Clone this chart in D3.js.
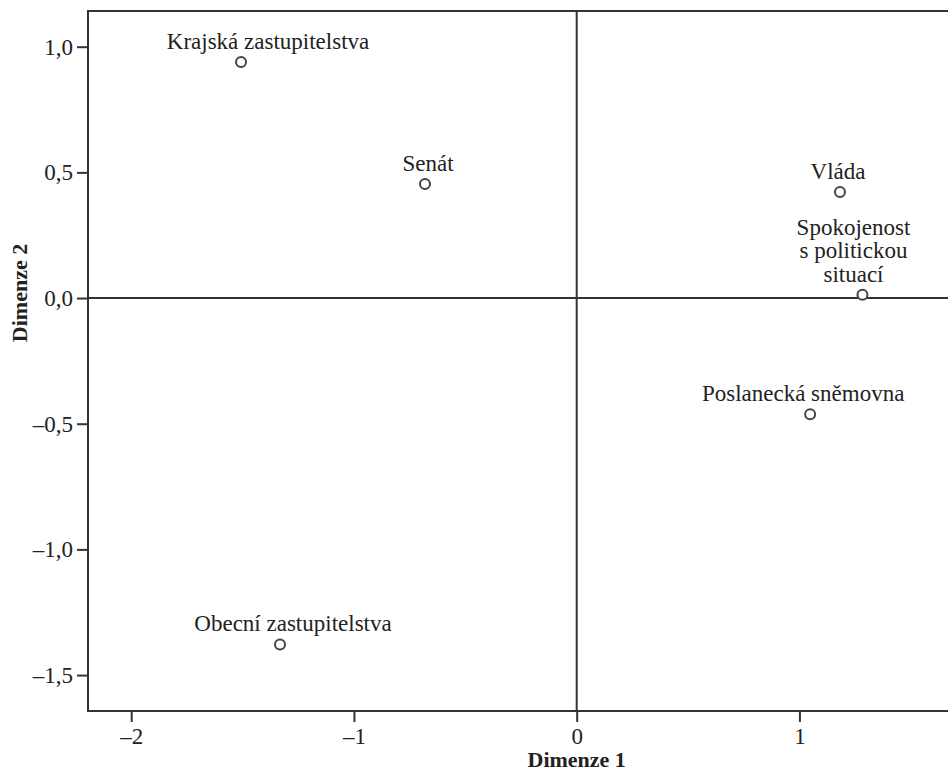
<!DOCTYPE html>
<html>
<head>
<meta charset="utf-8">
<script src="https://cdn.jsdelivr.net/npm/d3@7"></script>
<style>
  body { margin: 0; background: #fff; }
  text { font-family: "Liberation Serif", "DejaVu Serif", serif; fill: #222; }
</style>
</head>
<body>
<svg id="chart" width="948" height="774"></svg>
<script>
// values
var labels = [
  ["Krajská zastupitelstva"],
  ["Senát"],
  ["Vláda"],
  ["Spokojenost", "s politickou", "situací"],
  ["Poslanecká sněmovna"],
  ["Obecní zastupitelstva"]
];
var dim1 = [-1.507, -0.681, 1.182, 1.283, 1.048, -1.332];
var dim2 = [0.939, 0.454, 0.422, 0.013, -0.462, -1.378];
var xTicks = [-2, -1, 0, 1];
var yTicks = [-1.5, -1.0, -0.5, 0.0, 0.5, 1.0];

var svg = d3.select("#chart");
var plotLeft = 88, plotTop = 11, plotBottom = 711, plotRight = 952;
var fontSize = "23px";
// the labels are not quite centred on their points in the original
var labelNudge = [27, 3, -2, -9, -7, 13];

var x = d3.scaleLinear().domain([-2.194, 1.667]).range([plotLeft, 948]);
var y = d3.scaleLinear().domain([-1.643, 1.142]).range([plotBottom, plotTop]);

var fmt = function (d, digits) {
  return d.toFixed(digits).replace("-", "\u2013").replace(".", ",");
};

// frame
svg.append("rect")
  .attr("x", plotLeft).attr("y", plotTop)
  .attr("width", plotRight - plotLeft).attr("height", plotBottom - plotTop)
  .attr("fill", "none")
  .attr("stroke", "#333")
  .attr("stroke-width", 2);

// zero reference lines
svg.append("line")
  .attr("x1", plotLeft).attr("x2", plotRight)
  .attr("y1", y(0)).attr("y2", y(0))
  .attr("stroke", "#333").attr("stroke-width", 2);
svg.append("line")
  .attr("x1", x(0)).attr("x2", x(0))
  .attr("y1", plotTop).attr("y2", plotBottom)
  .attr("stroke", "#333").attr("stroke-width", 2);

// axes
var yAxis = svg.append("g")
  .attr("transform", "translate(" + plotLeft + ",0)")
  .call(d3.axisLeft(y).tickValues(yTicks).tickSize(11).tickPadding(4)
    .tickFormat(function (d) { return fmt(d, 1); }));
var xAxis = svg.append("g")
  .attr("transform", "translate(0," + plotBottom + ")")
  .call(d3.axisBottom(x).tickValues(xTicks).tickSize(11)
    .tickFormat(function (d) { return fmt(d, 0); }));

[xAxis, yAxis].forEach(function (a) {
  a.select(".domain").remove();
  a.selectAll(".tick line").attr("stroke", "#333").attr("stroke-width", 2);
  a.selectAll(".tick text")
    .style("font-family", "'Liberation Serif', 'DejaVu Serif', serif")
    .style("font-size", fontSize)
    .attr("fill", "#222");
});
xAxis.selectAll(".tick text").attr("dy", 0).attr("y", 33);

// axis titles
svg.append("text")
  .attr("x", x(0)).attr("y", 767)
  .attr("text-anchor", "middle")
  .style("font-size", "22px").style("font-weight", "bold")
  .text("Dimenze 1");
svg.append("text")
  .attr("transform", "translate(27,293) rotate(-90)")
  .attr("text-anchor", "middle")
  .style("font-size", "22px").style("font-weight", "bold")
  .text("Dimenze 2");

// points
var pts = svg.selectAll("g.pt")
  .data(labels)
  .enter().append("g")
  .attr("class", "pt")
  .attr("transform", function (d, i) { return "translate(" + x(dim1[i]) + "," + y(dim2[i]) + ")"; });

pts.append("circle")
  .attr("r", 5)
  .attr("fill", "#fff")
  .attr("stroke", "#444")
  .attr("stroke-width", 2);

pts.each(function (lines, i) {
  var g = d3.select(this);
  var n = lines.length;
  lines.forEach(function (line, k) {
    g.append("text")
      .attr("x", labelNudge[i])
      .attr("y", -13 - (n - 1 - k) * 23.5)
      .attr("text-anchor", "middle")
      .style("font-size", fontSize)
      .text(line);
  });
});
</script>
</body>
</html>
